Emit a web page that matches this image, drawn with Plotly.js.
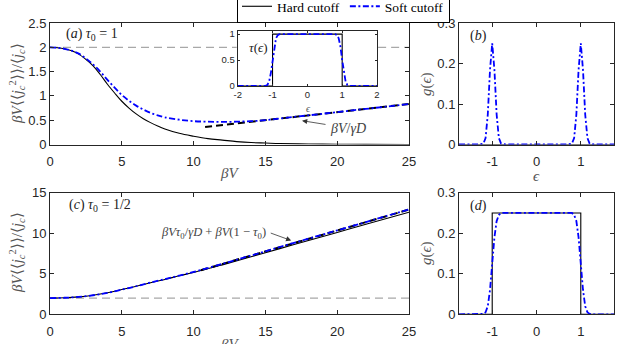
<!DOCTYPE html>
<html>
<head>
<meta charset="utf-8">
<script src="https://cdn.plot.ly/plotly-3.0.1.min.js"></script>
<style>
  html, body { margin: 0; padding: 0; background: #fff; }
  #chart { width: 638px; height: 344px; }
</style>
</head>
<body>
<div id="chart"></div>
<script>
// panel (a): tau0 = 1
const bvA = [0, 0.5, 1, 1.5, 2, 2.5, 3, 3.5, 4, 4.5, 5, 5.5, 6, 6.5, 7, 7.5, 8, 9, 10, 11, 12, 13, 14, 15, 16, 18, 20, 22, 25];
const hardA = [2.0, 1.99, 1.97, 1.93, 1.86, 1.75, 1.62, 1.44, 1.24, 1.06, 0.89, 0.75, 0.63, 0.53, 0.45, 0.38, 0.32, 0.23, 0.17, 0.12, 0.09, 0.06, 0.04, 0.03, 0.02, 0.01, 0.005, 0.002, 0];
const softA = [2.0, 1.99, 1.97, 1.93, 1.87, 1.77, 1.65, 1.5, 1.33, 1.17, 1.02, 0.9, 0.8, 0.72, 0.65, 0.6, 0.56, 0.51, 0.48, 0.47, 0.465, 0.47, 0.48, 0.5, 0.535, 0.6, 0.667, 0.733, 0.833];
const asymAx = [10.8, 25];
const asymAy = [0.36, 0.833];
const refX = [0, 13.0, null, 22.85, 25];
const refY = [2, 2, null, 2, 2];

// inset tau(eps)
const tauHardX = [-2, -1, -1, 1, 1, 2];
const tauHardY = [0, 0, 1, 1, 0, 0];
const tauSoftX = [-2, -1.3, -1.2, -1.15, -1.1, -1.05, -1.0, -0.95, -0.9, -0.85, -0.8, 0.8, 0.85, 0.9, 0.95, 1.0, 1.05, 1.1, 1.15, 1.2, 1.3, 2];
const tauSoftY = [0, 0, 0.004, 0.02, 0.08, 0.24, 0.5, 0.76, 0.92, 0.98, 1, 1, 0.98, 0.92, 0.76, 0.5, 0.24, 0.08, 0.02, 0.004, 0, 0];

// panel (b): g(eps), tau0 = 1
const gHardBx = [-1.75, 1.75];
const gHardBy = [0, 0];
const gSoftBx = [-1.75, -1.3, -1.2, -1.15, -1.1, -1.05, -1.0, -0.95, -0.9, -0.85, -0.8, -0.7, 0.7, 0.8, 0.85, 0.9, 0.95, 1.0, 1.05, 1.1, 1.15, 1.2, 1.3, 1.75];
const gSoftBy = [0, 0, 0.002, 0.016, 0.074, 0.184, 0.25, 0.184, 0.074, 0.016, 0.002, 0, 0, 0.002, 0.016, 0.074, 0.184, 0.25, 0.184, 0.074, 0.016, 0.002, 0, 0];

// panel (c): tau0 = 1/2
const bvC = [0, 1, 2, 3, 4, 5, 6, 7, 8, 9, 10, 12, 14, 16, 18, 20, 22, 25];
const hardC = [2, 2.04, 2.15, 2.35, 2.65, 3.05, 3.45, 3.9, 4.3, 4.75, 5.15, 6.1, 7.1, 8.1, 9.1, 10.1, 11.1, 12.6];
const softC = [2, 2.04, 2.15, 2.35, 2.65, 3.05, 3.46, 3.92, 4.34, 4.78, 5.22, 6.22, 7.25, 8.3, 9.33, 10.35, 11.38, 12.95];
const asymCx = [10.5, 25];
const asymCy = [5.43, 12.92];
const refCx = [0, 25];
const refCy = [2, 2];

// panel (d): g(eps), tau0 = 1/2
const gHardDx = [-1.75, -1, -1, 1, 1, 1.75];
const gHardDy = [0, 0, 0.25, 0.25, 0, 0];
const gSoftDx = [-1.75, -1.3, -1.2, -1.15, -1.1, -1.05, -1.0, -0.95, -0.9, -0.85, -0.8, 0.8, 0.85, 0.9, 0.95, 1.0, 1.05, 1.1, 1.15, 1.2, 1.3, 1.75];
const gSoftDy = [0, 0, 0.001, 0.005, 0.02, 0.06, 0.125, 0.19, 0.23, 0.245, 0.25, 0.25, 0.245, 0.23, 0.19, 0.125, 0.06, 0.02, 0.005, 0.001, 0, 0];

// tick labels
const bvTicks = [0, 5, 10, 15, 20, 25];
const epsTicks = [-1, 0, 1];
const epsTickText = ["-1", "0", "1"];
const insetTicks = [-2, -1, 0, 1, 2];
const insetTickText = ["-2", "-1", "0", "1", "2"];

const BLUE = "#0000ff";
const INK = "#262626";
const dashDot = "6px,2.5px,2px,2.5px";

function hard(x, y, xa, ya, show) {
  return { x: x, y: y, xaxis: xa, yaxis: ya, mode: "lines", name: "Hard cutoff",
    legendgroup: "h", showlegend: !!show, line: { color: "#000", width: 1.1 } };
}
function soft(x, y, xa, ya, show, shape) {
  return { x: x, y: y, xaxis: xa, yaxis: ya, mode: "lines", name: "Soft cutoff",
    legendgroup: "s", showlegend: !!show,
    line: { color: BLUE, width: 1.8, dash: dashDot, shape: shape || "spline" } };
}
function asym(x, y, xa, ya) {
  return { x: x, y: y, xaxis: xa, yaxis: ya, mode: "lines", showlegend: false,
    line: { color: "#000", width: 2, dash: "7px,4px" } };
}
function ref(x, y, xa, ya) {
  return { x: x, y: y, xaxis: xa, yaxis: ya, mode: "lines", showlegend: false,
    connectgaps: false, line: { color: "#a8a8a8", width: 1.2, dash: "8px,5px" } };
}

const hardLineA = hard(bvA, hardA, "x", "y", true);
hardLineA.line.shape = "spline";
const hardLineC = hard(bvC, hardC, "x3", "y3");
hardLineC.line.shape = "spline";

const data = [
  ref(refX, refY, "x", "y"),
  hardLineA,
  asym(asymAx, asymAy, "x", "y"),
  soft(bvA, softA, "x", "y", true),
  hard(tauHardX, tauHardY, "x5", "y5"),
  soft(tauSoftX, tauSoftY, "x5", "y5", false, "linear"),
  hard(gHardBx, gHardBy, "x2", "y2"),
  soft(gSoftBx, gSoftBy, "x2", "y2", false, "linear"),
  ref(refCx, refCy, "x3", "y3"),
  hardLineC,
  asym(asymCx, asymCy, "x3", "y3"),
  soft(bvC, softC, "x3", "y3"),
  hard(gHardDx, gHardDy, "x4", "y4"),
  soft(gSoftDx, gSoftDy, "x4", "y4", false, "linear"),
];

const W = 638, H = 344;
const px = (a, b) => [a / W, b / W];
const py = (top, bottom) => [1 - bottom / H, 1 - top / H];
const sans = "Liberation Sans, Arial, sans-serif";

function ax(extra) {
  return Object.assign({
    showline: true, mirror: "ticks", ticks: "inside", ticklen: 4,
    linecolor: INK, linewidth: 1, tickcolor: INK, tickwidth: 1,
    showgrid: false, zeroline: false, fixedrange: true,
    tickfont: { family: sans, size: 13, color: INK },
  }, extra);
}

const serif = "Liberation Serif";
const titleFont = { family: serif, size: 15, color: "#555" };

function label(text, x, y, opts) {
  return Object.assign({ text: text, xref: "paper", yref: "paper", x: x / W, y: 1 - y / H,
    showarrow: false, xanchor: "center", yanchor: "middle",
    font: { family: serif, size: 14, color: "#222" } }, opts || {});
}

const yTitle = "<i>βV</i>⟨⟨<i>j</i><sub><i>c</i></sub><sup>2</sup>⟩⟩/⟨<i>j</i><sub><i>c</i></sub>⟩";
const insetFont = { family: sans, size: 9.5, color: INK };

const layout = {
  width: W, height: H,
  margin: { l: 0, r: 0, t: 0, b: 0, autoexpand: false },
  paper_bgcolor: "#fff", plot_bgcolor: "#fff",
  font: { family: serif },
  xaxis: ax({ domain: px(50, 409), range: [0, 25], anchor: "y", tickvals: bvTicks, ticklabelstandoff: 5 }),
  yaxis: ax({ domain: py(23, 144.5), range: [0, 2.5], anchor: "x", tickvals: [0, 0.5, 1, 1.5, 2, 2.5] }),
  xaxis2: ax({ domain: px(459, 614), range: [-1.75, 1.75], anchor: "y2", tickvals: epsTicks, ticktext: epsTickText, ticklabelstandoff: 5 }),
  yaxis2: ax({ domain: py(23, 144.5), range: [0, 0.3], anchor: "x2", tickvals: [0, 0.1, 0.2, 0.3] }),
  xaxis3: ax({ domain: px(50, 409), range: [0, 25], anchor: "y3", tickvals: bvTicks, ticklabelstandoff: 5 }),
  yaxis3: ax({ domain: py(192.7, 314.3), range: [0, 15], anchor: "x3", tickvals: [0, 5, 10, 15] }),
  xaxis4: ax({ domain: px(459, 614), range: [-1.75, 1.75], anchor: "y4", tickvals: epsTicks, ticktext: epsTickText, ticklabelstandoff: 5 }),
  yaxis4: ax({ domain: py(192.7, 314.3), range: [0, 0.3], anchor: "x4", tickvals: [0, 0.1, 0.2, 0.3] }),
  xaxis5: ax({ domain: px(237.7, 377), range: [-2, 2], anchor: "y5", tickvals: insetTicks, ticktext: insetTickText,
    ticklen: 2, tickfont: insetFont }),
  yaxis5: ax({ domain: py(31, 86), range: [0, 1.06], anchor: "x5", tickvals: [0, 0.5, 1],
    ticklen: 2, tickfont: insetFont }),
  showlegend: true,
  legend: {
    orientation: "h", x: 237 / W, xanchor: "left", y: 1 + 10 / H, yanchor: "top",
    bgcolor: "#fff", bordercolor: "#000", borderwidth: 1,
    font: { family: serif, size: 13.5, color: "#000" }, itemwidth: 30, tracegroupgap: 0,
  },
  annotations: [
    label(yTitle, 17, 84, { textangle: -90, font: titleFont }),
    label("<i>βV</i>", 229, 173, { font: titleFont }),
    label("<i>g</i>(<i>ϵ</i>)", 426, 84, { textangle: -90, font: titleFont }),
    label("<i>ϵ</i>", 536, 176, { font: titleFont }),
    label(yTitle, 17, 253, { textangle: -90, font: titleFont }),
    label("<i>βV</i>", 229, 344, { font: titleFont }),
    label("<i>g</i>(<i>ϵ</i>)", 426, 253, { textangle: -90, font: titleFont }),
    label("<i>ϵ</i>", 536, 346, { font: titleFont }),
    label("(<i>a</i>) <i>τ</i><sub>0</sub> = 1", 92, 35),
    label("(<i>b</i>)", 478, 36),
    label("(<i>c</i>) <i>τ</i><sub>0</sub> = 1/2", 100, 206),
    label("(<i>d</i>)", 478, 206),
    label("<i>τ</i>(<i>ϵ</i>)", 258, 47, { font: { family: serif, size: 13, color: "#222" } }),
    label("<i>ϵ</i>", 308, 108, { font: { family: serif, size: 10, color: "#555" } }),
    label("<i>βV</i>/<i>γD</i>", 348, 128, { font: { family: serif, size: 14, color: "#444" } }),
    label("<i>βVτ</i><sub>0</sub>/<i>γD</i> + <i>βV</i>(1 − <i>τ</i><sub>0</sub>)", 213, 233,
      { font: { family: serif, size: 12.5, color: "#444" } }),
    { xref: "x", yref: "y", x: 17.55, y: 0.49, text: "", showarrow: true,
      ax: 25, ay: 4, arrowhead: 2, arrowsize: 1.3,
      arrowwidth: 0.8, arrowcolor: "#333" },
    { xref: "x3", yref: "y3", x: 16.8, y: 9.1, text: "", showarrow: true,
      ax: -22, ay: -8, arrowhead: 2, arrowsize: 1.3, arrowwidth: 0.8, arrowcolor: "#333" },
  ],
};

Plotly.newPlot("chart", data, layout, { staticPlot: true });
</script>
</body>
</html>
